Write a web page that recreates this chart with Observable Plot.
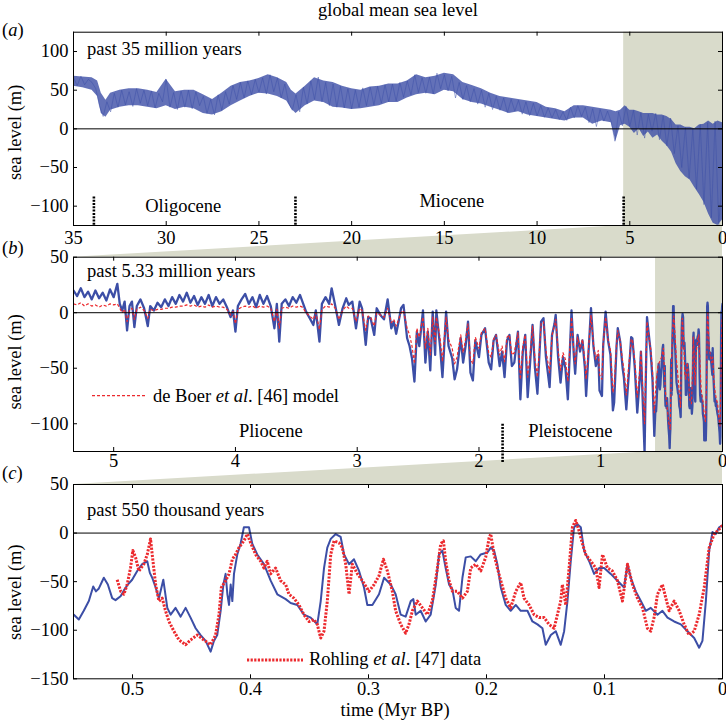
<!DOCTYPE html>
<html><head><meta charset="utf-8">
<script src="https://cdn.jsdelivr.net/npm/d3@7"></script>
<script src="https://cdn.jsdelivr.net/npm/@observablehq/plot@0.6"></script>
<style>
body{margin:0;background:#fff;}
#wrap{position:relative;width:726px;height:727px;overflow:hidden;}
#wrap > svg{position:absolute;left:0;}
</style></head><body><div id="wrap"></div>
<script>
// ---------- DATA ----------
// panel (a): past 35 Myr, envelope of the dense sea-level record
const a_t  = [35,34.5,34,33.7,33.5,33.25,33,32.5,32,31.5, 31,30.5,30,29.5,29,28.5,28,27.5,27,26.5, 26,25.5,25,24.5,24,23.5,23.25,23,22.5,22, 21.5,21,20.5,20,19.5,19,18.5,18,17.5,17, 16.5,16,15.5,15,14.5,14,13.5,13,12.5,12, 11.5,11,10.5,10,9.5,9,8.5,8,7.5,7, 6.5,6,5.75,5.5,5.25,5,4.75,4.5,4.25,4, 3.75,3.5,3.25,3,2.75,2.5,2.25,2,1.75,1.5, 1.25,1,0.75,0.5,0.25,0];
const a_lo = [55,53,50,42,20,15,24,28,30,30, 28,26,30,25,28,26,20,18,22,30, 36,42,46,45,42,36,26,20,30,36, 34,28,27,25,26,28,30,34,34,40, 44,46,44,50,48,38,34,32,28,24, 20,22,18,16,14,12,10,14,14,6, 10,8,-16,4,6,2,-6,0,-10,-4, -12,-8,-16,-22,-30,-45,-55,-62,-66,-76, -85,-95,-110,-122,-125,-118];
const a_hi = [68,67,66,62,46,37,46,50,52,52, 50,47,64,48,50,50,44,38,46,55, 60,62,65,70,66,60,50,45,55,66, 62,60,55,52,50,54,55,58,58,62, 70,66,68,72,70,60,56,52,46,42, 40,38,36,34,28,26,22,30,30,28, 26,24,22,24,30,24,24,22,20,20, 20,18,18,16,12,5,5,2,2,0, 5,6,10,6,10,8];
// panel (a): individual readings every 0.2 Myr, from 35 Myr to present
const a_sl = [66,56,68,57,64, 60,52,30,16,35, 22,46,28,50,31, 48,29,52,33,50, 30,49,27,46,35,
 64,28,47,25,49, 28,50,26,48,30, 42,20,38,18,44, 24,48,32,56,38, 60,40,62,44,64,
 47,66,45,70,48, 66,40,58,34,24, 44,22,54,32,62, 38,67,35,60,30, 58,28,55,27,52,
 26,50,28,53,30, 54,31,55,33,57, 35,58,36,60,41, 62,44,70,47,66, 46,67,45,72,52,
 70,49,68,40,60, 38,56,35,52,32, 50,28,46,25,42, 24,40,21,38,23, 37,19,35,17,33,
 17,30,15,27,14, 25,12,22,11,28, 14,30,16,28,8, 26,3,25,10,23, 9,-16,22,4,29,
 3,24,-8,21,-12, 19,-3,20,-14,17, -22,14,-32,4,-50, 2,-64,0,-78,6, -98,8,-115,10,-124,
 -60];

// panel (b): past 5.33 Myr (older than 0.55 Myr), sea level and de Boer et al. model
const b_t = [5.33,5.30,5.27,5.24,5.21,5.18,5.15,5.12,5.09,5.06, 5.03,5.00,4.97,4.95,4.93,4.91,4.89,4.87,4.85,4.83,
 4.81,4.78,4.75,4.72,4.70,4.67,4.64,4.61,4.58,4.55, 4.52,4.49,4.46,4.43,4.40,4.37,4.34,4.31,4.28,4.25,
 4.22,4.19,4.16,4.13,4.10,4.07,4.04,4.02,4.00,3.98, 3.95,3.92,3.89,3.86,3.83,3.80,3.77,3.74,3.71,3.68,
 3.66,3.64,3.62,3.59,3.56,3.53,3.50,3.47,3.45,3.42, 3.39,3.36,3.34,3.31,3.29,3.26,3.23,3.21,3.18,3.15,
 3.12,3.09,3.07,3.04,3.01,2.98,2.96,2.93,2.91,2.89, 2.86,2.84,2.81,2.78,2.75,2.72,2.70,2.68,2.66,2.64,
 2.62,2.59,2.57,2.55,2.53,2.51,2.49,2.46,2.44,2.42, 2.40,2.38,2.36,2.35,2.32,2.30,2.28,2.27,2.25,2.22,
 2.20,2.18,2.15,2.13,2.11,2.09,2.07,2.05,2.03,2.00, 1.98,1.95,1.92,1.90,1.88,1.86,1.83,1.81,1.79,1.77,
 1.75,1.73,1.71,1.68,1.66,1.64,1.62,1.60,1.58,1.56, 1.54,1.52,1.50,1.49,1.47,1.45,1.42,1.40,1.38,1.37,
 1.35,1.33,1.31,1.29,1.27,1.24,1.22,1.21,1.19,1.17, 1.15,1.13,1.12,1.10,1.08,1.06,1.04,1.02,1.01,0.99,
 0.98,0.96,0.94,0.92,0.90,0.89,0.87,0.86,0.84,0.82, 0.81,0.79,0.77,0.75,0.74,0.72,0.70,0.68,0.67,0.65,
 0.64,0.63,0.62,0.60,0.59,0.575,0.56];
const b_sl = [20,15,22,14,19,12,20,13,18,11, 21,14,26,8,2,10,-16,6,10,-13,
 6,12,4,-12,6,2,9,5,12,6, 14,8,16,10,18,9,15,7,14,8,
 16,6,14,8,12,5,-4,2,-17,6, 12,17,8,14,5,16,8,15,6,-14,
 8,-26,8,12,6,14,9,16,10,1, -5,-11,2,-26,8,14,8,22,6,-11,
 4,13,7,10,-14,10,4,-29,-4,-5, -20,4,-2,-6,12,-14,-8,-19,-8,4,
 7,-23,-30,-41,-62,-17,-30,2,-45,-17, -52,1,-38,2,-30,-58,-20,1,-30,-41,
 -60,-51,-23,-45,-30,-8,-54,-61,-25,-40, -20,-14,-45,-51,-25,-20,-48,-35,-58,-25,
 -20,-48,-45,-17,-78,-35,-20,-76,-45,-11, -50,-73,-30,-8,-5,-40,-67,-20,-10,-2,
 -40,-63,-40,-50,-78,2,-40,-55,-20,-35, -25,-50,-75,-35,4,-30,-48,-38,-70,-75,
 -30,1,-25,-38,-88,-81,-30,-14,-26,-50, -58,-87,-56,-22,-23,-50,-90,-60,-35,-95,
 -126,-60,-4,-25,-35,-60,-111];
const b_model = [8,7,9,6,8,6,7,5,7,6, 8,7,8,4,0,3,-8,2,4,-6,
 3,5,2,-5,3,2,3,3,4,4, 5,5,6,6,7,6,7,5,6,5,
 7,5,6,5,5,3,-2,1,-10,3, 5,6,5,6,4,6,5,6,4,-8,
 3,-14,4,5,4,6,5,6,5,0, -3,-6,0,-15,3,6,5,8,4,-6,
 2,6,4,4,-8,4,2,-16,-3,-4, -12,0,-2,-4,4,-9,-6,-12,-6,0,
 2,-14,-20,-30,-46,-14,-22,-4,-32,-14, -38,-4,-28,-4,-22,-44,-16,-4,-24,-32,
 -46,-40,-20,-36,-24,-10,-42,-46,-22,-32, -18,-14,-36,-40,-24,-20,-38,-30,-44,-22,
 -20,-38,-36,-18,-60,-30,-20,-58,-38,-12, -42,-58,-28,-10,-8,-34,-54,-20,-12,-6,
 -34,-52,-36,-42,-62,-4,-36,-46,-22,-32, -24,-44,-60,-32,-2,-28,-42,-34,-56,-60,
 -28,-4,-24,-34,-72,-66,-28,-16,-26,-44, -50,-74,-48,-24,-24,-44,-76,-52,-34,-80,
 -100,-52,-8,-26,-32,-52,-90];
// de Boer et al. model, last 0.55 Myr
const m_t  = [0.545,0.53,0.52,0.50,0.485,0.47,0.455,0.44,0.43,0.42, 0.41,0.40,0.39,0.38,0.36,0.345,0.335,0.33,0.32,0.31,
 0.30,0.29,0.28,0.27,0.255,0.245,0.24,0.235,0.225,0.215, 0.205,0.195,0.185,0.175,0.16,0.15,0.14,0.13,0.125,0.12,
 0.11,0.10,0.09,0.08,0.07,0.06,0.05,0.04,0.03,0.02, 0.01,0.005,0];
const m_sl = [-62,-48,-45,-40,-32,-70,-85,-100,-105,-50, -15,-3,-20,-40,-65,-85,-20,-5,-20,-55,
 -60,-45,-55,-78,-82,-50,-22,-30,-65,-35, -25,-20,-45,-70,-80,-92,-98,-60,-5,0,
 -32,-38,-45,-40,-62,-72,-78,-82,-95,-102, -45,-8,-3];

// panel (c): past 550 kyr sea level
const c_t = [0.5497,0.5455,0.5413,0.537,0.5333,0.531,0.5285,0.5243,0.5209,0.5172,
 0.5144,0.5101,0.5073,0.504,0.5003,0.496,0.4918,0.4875,0.4853,0.4833,
 0.4804,0.4776,0.4739,0.4705,0.4677,0.4635,0.4592,0.455,0.4508,0.4465,
 0.4423,0.438,0.4338,0.431,0.4282,0.4253,0.423,0.4211,0.4196,0.4182,
 0.4168,0.4154,0.414,0.4112,0.4084,0.4056,0.4013,0.3985,0.3943,0.3886,
 0.3829,0.3773,0.3702,0.366,0.3603,0.3547,0.349,0.3434,0.3405,0.3377,
 0.3349,0.332,0.3278,0.3236,0.3207,0.3165,0.3123,0.308,0.3038,0.301,
 0.2967,0.2911,0.2868,0.2812,0.277,0.2727,0.2685,0.2642,0.262,0.26,
 0.2558,0.2515,0.2473,0.243,0.2402,0.2374,0.2346,0.2317,0.2289,0.2261,
 0.2233,0.2204,0.2176,0.2134,0.2091,0.2049,0.1992,0.1964,0.1936,0.1908,
 0.1879,0.1837,0.1795,0.1752,0.171,0.1653,0.1611,0.1568,0.1526,0.1498,
 0.1455,0.1413,0.1371,0.1342,0.1314,0.1286,0.1258,0.123,0.1201,0.1173,
 0.113,0.1088,0.1046,0.1003,0.0947,0.089,0.0834,0.0805,0.0777,0.0735,
 0.0692,0.065,0.0608,0.0551,0.0509,0.0466,0.041,0.0353,0.0297,0.024,
 0.0198,0.017,0.0141,0.0113,0.0085,0.0057,0.0028,0];
const c_sl = [-84,-89,-80,-70,-55,-60,-57,-46,-53,-67,
 -69,-65,-59,-53,-48,-39,-32,-29,-41,-46,
 -56,-67,-48,-77,-84,-77,-86,-77,-87,-98,
 -105,-111,-122,-111,-105,-80,-53,-42,-63,-74,
 -53,-70,-42,-22,-11,6,6,-11,-22,-32,
 -49,-63,-68,-72,-74,-84,-87,-94,-70,-36,
 -15,-6,-1,-4,-22,-32,-27,-39,-56,-74,
 -74,-63,-46,-53,-63,-84,-86,-70,-68,-84,
 -80,-91,-84,-53,-22,-18,-36,-53,-58,-77,
 -80,-46,-25,-24,-29,-22,-20,-15,-18,-32,
 -56,-74,-80,-74,-80,-80,-91,-94,-98,-115,
 -105,-101,-115,-101,-70,-29,6,9,6,-18,
 -29,-42,-36,-36,-42,-49,-56,-32,-46,-60,
 -70,-80,-77,-84,-80,-87,-91,-94,-101,-108,
 -118,-111,-70,-18,1,-1,6,8];
// Rohling et al. data
const r_t = [0.513,0.51,0.5073,0.5045,0.5017,0.4997,0.4974,0.4946,0.4904,0.4875,
 0.4847,0.4833,0.4804,0.4776,0.4748,0.472,0.4691,0.4649,0.4606,0.455,
 0.4508,0.4451,0.4395,0.4338,0.4296,0.4267,0.4247,0.4211,0.4182,0.4154,
 0.4126,0.4098,0.4056,0.4027,0.3999,0.3957,0.3914,0.3886,0.3858,0.3829,
 0.3787,0.3745,0.3702,0.3674,0.3632,0.3589,0.3547,0.3504,0.3462,0.3434,
 0.3405,0.3377,0.3349,0.332,0.3292,0.325,0.3222,0.3193,0.3165,0.3137,
 0.3094,0.3052,0.2996,0.2953,0.2911,0.2874,0.284,0.2798,0.277,0.2727,
 0.2685,0.2657,0.2628,0.2586,0.2543,0.2501,0.2459,0.2416,0.2388,0.2365,
 0.2346,0.2317,0.2289,0.2247,0.2204,0.2162,0.2134,0.2091,0.2049,0.2007,
 0.1978,0.1964,0.1936,0.1908,0.1879,0.1837,0.1795,0.1752,0.171,0.1682,
 0.1639,0.1597,0.1554,0.1512,0.147,0.1427,0.1399,0.1371,0.1357,0.1328,
 0.13,0.1272,0.1244,0.1215,0.1187,0.1159,0.1116,0.1074,0.1046,0.1017,
 0.0975,0.0933,0.089,0.0848,0.0805,0.0763,0.0721,0.0678,0.0636,0.0608,
 0.058,0.0551,0.0509,0.048,0.0452,0.041,0.0367,0.0325,0.0283,0.024,
 0.0198,0.0155,0.0113,0.0071,0.0028,0];
const r_sl = [-48,-60,-63,-53,-36,-18,-25,-39,-32,-22,
 -6,-22,-53,-70,-67,-80,-91,-101,-110,-115,
 -110,-105,-110,-115,-105,-84,-56,-49,-42,-27,
 -22,-15,-8,-1,-10,-22,-29,-36,-29,-42,
 -36,-49,-53,-63,-67,-74,-84,-91,-89,-94,
 -108,-101,-70,-22,-8,-10,-15,-32,-63,-32,
 -42,-49,-60,-53,-44,-27,-39,-60,-80,-94,
 -103,-94,-80,-70,-77,-84,-70,-36,-11,-8,
 -29,-49,-60,-60,-67,-60,-36,-32,-39,-25,
 -5,-1,-22,-36,-49,-67,-77,-60,-51,-67,
 -74,-84,-87,-87,-94,-98,-84,-70,-53,-74,
 -36,6,13,2,-11,-22,-29,-36,-56,-22,
 -36,-39,-49,-70,-32,-53,-67,-77,-98,-101,
 -87,-63,-53,-67,-80,-70,-80,-94,-105,-101,
 -84,-56,-15,-1,4,8];

// epochs and highlighted windows
const aBounds = [33.9, 23.03, 5.33];
const aEpochNames = ["Oligocene", "Miocene"];
const aEpochT = [29.08, 14.6];
const bBounds = [1.806];
const bEpochNames = ["Pliocene", "Pleistocene"];
const bEpochT = [3.71, 1.25];
const shadeA = [5.33, 0];
const shadeB = [0.55, 0];

// ticks
const aXTicks = [35,30,25,20,15,10,5,0], aYTicks = [-100,-50,0,50,100];
const bXTicks = [5,4,3,2,1,0], bYTicks = [-100,-50,0,50];
const cXTicks = [0.5,0.4,0.3,0.2,0.1,0], cYTicks = [-150,-100,-50,0,50];

// ---------- STYLE ----------
const W = 726, ML = 73, MR = 4;
const BLUE = "#3c4ea6", RED = "#ec2a2e", SHADE = "#d9dbcb";
const FONT = "'Liberation Serif', 'Times New Roman', serif", FS = 18.5;
const fmt = d => (d < 0 ? "\u2212" + Math.abs(d) : String(d));
const wrap = document.getElementById("wrap");

const aData = a_t.map((t, i) => ({t, lo: a_lo[i], hi: a_hi[i]}));
const aLine = a_sl.map((v, i) => ({t: 35 - i * 0.2, v}));
const bBlue = b_t.map((t, i) => ({t, v: b_sl[i]})).concat(c_t.map((t, i) => ({t, v: c_sl[i]})).filter(d => d.t < 0.55));
const bRed = b_t.map((t, i) => ({t, v: b_model[i]})).concat(m_t.map((t, i) => ({t, v: m_sl[i]})));
const cBlue = c_t.map((t, i) => ({t, v: c_sl[i]}));
const cRed = r_t.map((t, i) => ({t, v: r_sl[i]}));

function txt(g, x, y, parts, anchor) {
  const t = g.append("text").attr("x", x).attr("y", y).attr("text-anchor", anchor || "start")
    .attr("fill", "black").style("white-space", "pre");
  for (const p of parts) {
    const [s, it] = Array.isArray(p) ? p : [p, false];
    t.append("tspan").attr("font-style", it ? "italic" : null).text(s);
  }
  return t;
}
const deco = build => (index, scales, values, dims) => {
  const g = d3.create("svg:g");
  const fl = dims.marginLeft, ft = dims.marginTop;
  const fb = dims.height - dims.marginBottom, fr = dims.width - dims.marginRight;
  build(g, {fl, ft, fb, fr, cy: (ft + fb) / 2, cx: (fl + fr) / 2});
  return g.node();
};
const ylab = (g, f, dy) => g.append("text").attr("transform", `translate(15,${f.cy + dy}) rotate(-90)`)
  .attr("text-anchor", "middle").attr("dominant-baseline", "central").attr("fill", "black").text("sea level (m)");

function panel({top, height, mt, mb, xDomain, yDomain, xTicks, yTicks, tickPad, marks}) {
  const fh = height - mt - mb, fw = W - ML - MR;
  const p = Plot.plot({
    width: W, height, marginLeft: ML, marginRight: MR, marginTop: mt, marginBottom: mb,
    style: {background: "transparent", fontFamily: FONT, fontSize: FS + "px", color: "black", overflow: "visible"},
    x: {domain: xDomain, ticks: xTicks, tickSize: 0, tickPadding: tickPad, tickFormat: fmt, label: null},
    y: {domain: yDomain, ticks: yTicks, tickSize: 0, tickPadding: 5, tickFormat: fmt, label: null},
    marks: [
      ...marks,
      Plot.tickX(xTicks, {x: d => d, insetBottom: fh - 4, stroke: "black"}),
      Plot.tickX(xTicks, {x: d => d, insetTop: fh - 4, stroke: "black"}),
      Plot.tickY(yTicks, {y: d => d, insetRight: fw - 4, stroke: "black"}),
      Plot.tickY(yTicks, {y: d => d, insetLeft: fw - 4, stroke: "black"}),
      Plot.frame({stroke: "black"})
    ]
  });
  p.style.top = top + "px";
  return p;
}

const aDom = [-125, 125], bDom = [-125, 50], cDom = [-150, 50];

const pa = panel({top: 0, height: 250, mt: 31.7, mb: 25, xDomain: [35, 0], yDomain: aDom,
  xTicks: aXTicks, yTicks: aYTicks, tickPad: 5, marks: [
    Plot.rect([shadeA], {x1: d => d[0], x2: d => d[1], y1: aDom[0], y2: aDom[1], fill: SHADE}),
    Plot.areaY(aData, {x: "t", y1: "lo", y2: "hi", fill: BLUE, fillOpacity: 0.8, clip: true}),
    Plot.line(aLine, {x: "t", y: "v", stroke: BLUE, strokeWidth: 0.8, strokeOpacity: 0.6, clip: true}),
    Plot.ruleY([0], {stroke: "black", strokeWidth: 1}),
    Plot.ruleX(aBounds, {x: d => d, y1: -88, y2: aDom[0], stroke: "black", strokeWidth: 2.6, strokeDasharray: "2,1.3"}),
    Plot.text(aEpochNames, {x: (d, i) => aEpochT[i], y: (d, i) => [-108, -101][i], text: d => d, lineAnchor: "bottom", textAnchor: "middle"}),
    deco((g, f) => {
      txt(g, f.cx + 0.5, f.ft - 15.7, ["global mean sea level"], "middle");
      txt(g, f.fl - 71, f.ft + 4, ["(", ["a", true], ")"]);
      txt(g, f.fl + 14, f.ft + 23.3, ["past 35 million years"]);
      ylab(g, f, 4);
    })
  ]});

const pb = panel({top: 250, height: 225, mt: 6.7, mb: 24, xDomain: [5.33, 0], yDomain: bDom,
  xTicks: bXTicks, yTicks: bYTicks, tickPad: 2, marks: [
    Plot.rect([shadeB], {x1: d => d[0], x2: d => d[1], y1: bDom[0], y2: bDom[1], fill: SHADE}),
    Plot.line(bBlue, {x: "t", y: "v", stroke: BLUE, strokeWidth: 2.3, clip: true}),
    Plot.line(bRed, {x: "t", y: "v", stroke: RED, strokeWidth: 1.2, strokeDasharray: "3,2", strokeLinecap: "butt", clip: true}),
    Plot.ruleY([0], {stroke: "black", strokeWidth: 1}),
    Plot.ruleX(bBounds, {x: d => d, y1: -100.5, y2: -135, stroke: "black", strokeWidth: 2.6, strokeDasharray: "2,1.3"}),
    Plot.text(bEpochNames, {x: (d, i) => bEpochT[i], y: -112, text: d => d, lineAnchor: "bottom", textAnchor: "middle"}),
    deco((g, f) => {
      txt(g, f.fl - 71, f.ft - 3, ["(", ["b", true], ")"]);
      txt(g, f.fl + 14, f.ft + 19.8, ["past 5.33 million years"]);
      ylab(g, f, 8);
      g.append("line").attr("x1", f.fl + 19).attr("x2", f.fl + 74).attr("y1", f.ft + 139).attr("y2", f.ft + 139)
        .attr("stroke", RED).attr("stroke-width", 1.2).attr("stroke-dasharray", "3,2");
      txt(g, f.fl + 80, f.ft + 145, ["de Boer ", ["et al", true], ". [46] model"]);
    })
  ]});

const pc = panel({top: 475, height: 252, mt: 9, mb: 48.7, xDomain: [0.55, 0], yDomain: cDom,
  xTicks: cXTicks, yTicks: cYTicks, tickPad: 3, marks: [
    Plot.line(cBlue, {x: "t", y: "v", stroke: BLUE, strokeWidth: 2, clip: true}),
    Plot.line(cRed, {x: "t", y: "v", stroke: RED, strokeWidth: 3, strokeDasharray: "2.2,1.4", strokeLinecap: "butt", clip: true}),
    Plot.ruleY([0], {stroke: "black", strokeWidth: 1}),
    deco((g, f) => {
      txt(g, f.fl - 71, f.ft - 5, ["(", ["c", true], ")"]);
      txt(g, f.fl + 14, f.ft + 31.5, ["past 550 thousand years"]);
      ylab(g, f, 11);
      g.append("line").attr("x1", f.fl + 174).attr("x2", f.fl + 230).attr("y1", f.ft + 176).attr("y2", f.ft + 176)
        .attr("stroke", RED).attr("stroke-width", 3).attr("stroke-dasharray", "2.2,1.4");
      txt(g, f.fl + 236, f.ft + 181, ["Rohling ", ["et al", true], ". [47] data"]);
      txt(g, f.cx - 2.4, f.fb + 37.7, ["time (Myr BP)"], "middle");
    })
  ]});

// connecting wedges (behind the panels), built from each panel's x scale
const sx = p => { const s = p.scale("x"); return d3.scaleLinear(s.domain, s.range); };
const xa = sx(pa), xb = sx(pb), xc = sx(pc);
const aBottom = 0 + 250 - 25, bTop = 250 + 6.7, bBottom = 250 + 225 - 24, cTop = 475 + 9;
const bg = d3.create("svg").attr("width", W).attr("height", 727).style("top", "0px");
bg.append("polygon").attr("fill", SHADE).attr("points",
  [[xa(shadeA[0]), aBottom], [xa(shadeA[1]), aBottom], [xb(shadeA[1]), bTop], [xb(shadeA[0]), bTop]].map(p => p.join(",")).join(" "));
bg.append("polygon").attr("fill", SHADE).attr("points",
  [[xb(shadeB[0]), bBottom], [xb(shadeB[1]), bBottom], [xc(shadeB[1]), cTop], [xc(shadeB[0]), cTop]].map(p => p.join(",")).join(" "));

wrap.append(bg.node(), pa, pb, pc);
</script></body></html>
